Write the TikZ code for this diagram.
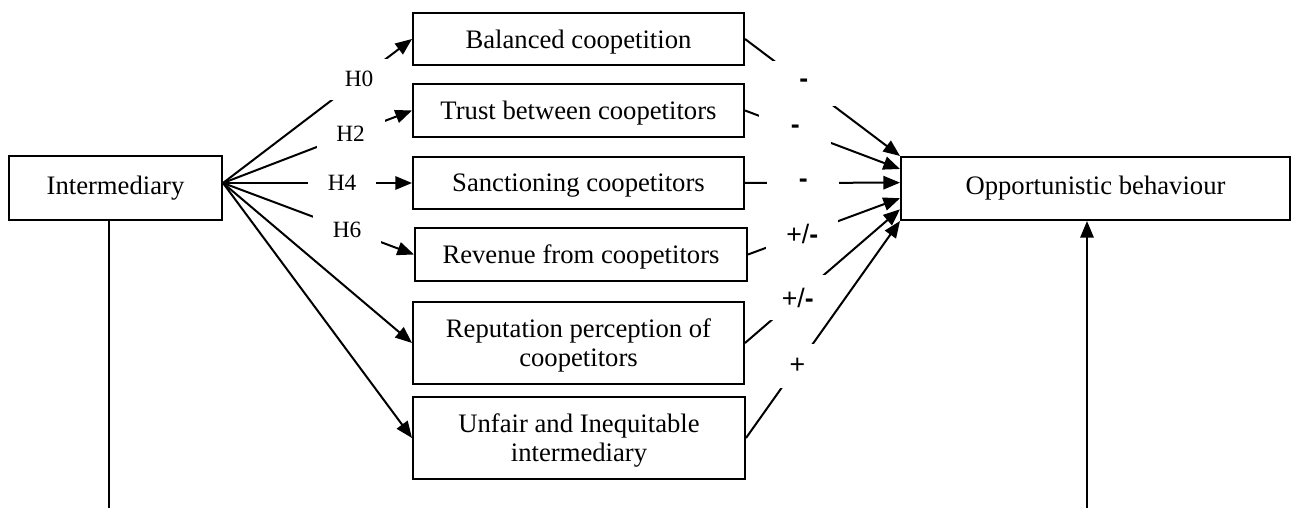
\documentclass[tikz,border=0pt]{standalone}
\usepackage{fontspec}
\setmainfont{Liberation Serif}
\newfontfamily\signfont{Liberation Sans}
\usepackage{tikz}
\usetikzlibrary{arrows.meta,calc}

\begin{document}
\begin{tikzpicture}[x=0.45pt, y=-0.45pt, line width=0.9pt,
    box/.style={draw, line width=0.9pt, inner sep=0pt, align=center,
                font=\fontsize{12}{13}\selectfont},
    med/.style={box, text depth=0pt},
    link/.style={-{Triangle[length=7.5pt,width=6pt]}},
    hyp/.style={fill=white, inner sep=0pt, minimum width=30.6pt,
                minimum height=18.5pt, font=\fontsize{10.5}{10.5}\selectfont},
    sign/.style={fill=white, inner sep=0pt, minimum width=32.4pt,
                minimum height=20pt, font=\signfont\fontsize{12}{12}\selectfont}]

    \useasboundingbox (0,0) rectangle (1293,508);

    %% left and right constructs
    \node[box, minimum width=95.85pt, minimum height=28.8pt]
      (inter) at (115.5,188) {Intermediary};
    \node[box, minimum width=175.05pt, minimum height=28.35pt]
      (opp) at (1095.5,188.5) {Opportunistic behaviour};

    %% mediators
    \node[med, minimum width=148.95pt, minimum height=23.4pt]
      (bal) at (578.5,39) {Balanced coopetition};
    \node[med, minimum width=148.95pt, minimum height=23.85pt]
      (trust) at (578.5,110.5) {Trust between coopetitors};
    \node[med, minimum width=148.95pt, minimum height=23.4pt]
      (sanc) at (578.5,183) {Sanctioning coopetitors};
    \node[med, minimum width=149.4pt, minimum height=23.85pt]
      (rev) at (581,254.5) {Revenue from coopetitors};
    \node[med, minimum width=148.95pt, minimum height=36.9pt]
      (rep) at (578.5,343) {Reputation perception of\\coopetitors};
    \node[med, minimum width=149.4pt, minimum height=36.9pt]
      (unf) at (579,438) {Unfair and Inequitable\\intermediary};

    %% intermediary -> mediators
    \coordinate (fan) at ($(inter.east)+(0,-5)$);
    \draw[link] (fan) -- node[hyp, pos=0.72] {H0} (bal.west);
    \draw[link] (fan) -- node[hyp, pos=0.675] {H2} (trust.west);
    \draw[link] (fan) -- node[hyp, pos=0.63] {H4} (sanc.west);
    \draw[link] (fan) -- node[hyp, pos=0.65] {H6} (rev.west);
    \draw[link] (fan) -- (rep.west);
    \draw[link] (fan) -- (unf.west);

    %% mediators -> opportunistic behaviour
    \draw[link] (bal.east) -- node[sign, pos=0.38] {\textbf{-}}
      (opp.north west);
    \draw[link] (trust.east) -- node[sign, pos=0.325] {\textbf{-}}
      ($(opp.north west)!0.2!(opp.south west)$);
    \draw[link] (sanc.east) -- node[sign, pos=0.376] {\textbf{-}}
      ($(opp.north west)!0.41!(opp.south west)$);
    \draw[link] (rev.east) -- node[sign, pos=0.357] {+/\textbf{-}}
      ($(opp.north west)!0.65!(opp.south west)$);
    \draw[link] (rep.east) -- node[sign, pos=0.34] {+/\textbf{-}}
      ($(opp.north west)!0.82!(opp.south west)$);
    \draw[link] (unf.east) -- node[sign, pos=0.333] {+}
      (opp.south west);

    %% lines running off the bottom
    \coordinate (ifoot) at (109,508);
    \coordinate (ofoot) at (1087,508);
    \draw (inter.south -| ifoot) -- (ifoot);
    \draw[link] (ofoot) -- (opp.south -| ofoot);

  \end{tikzpicture}
\end{document}
